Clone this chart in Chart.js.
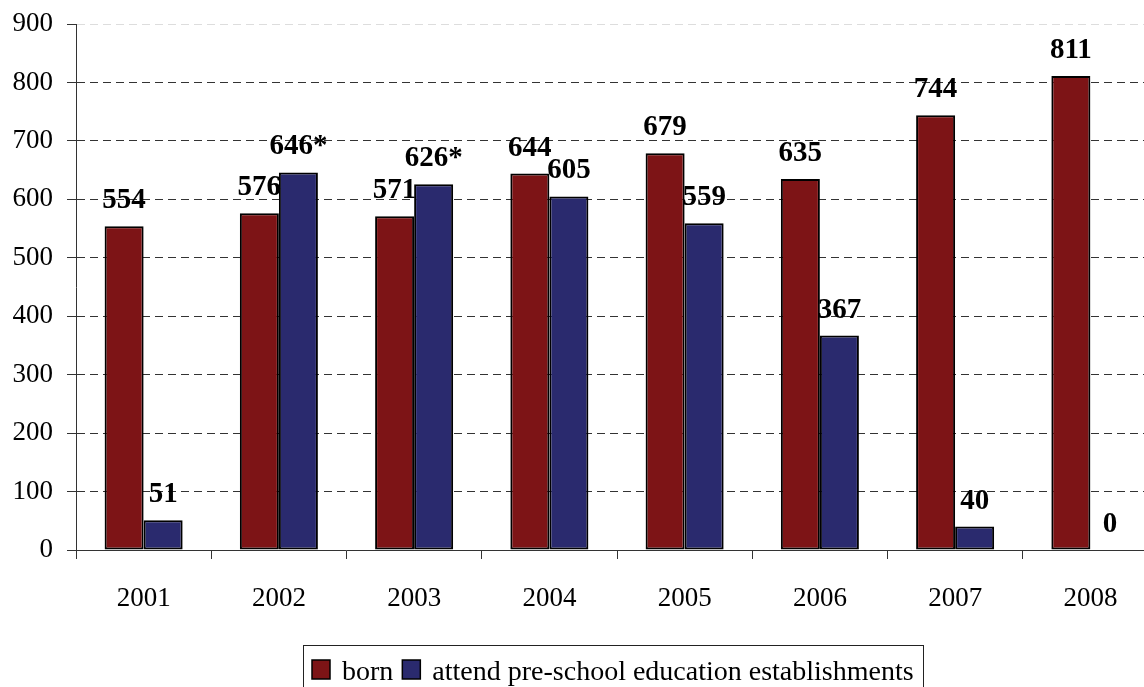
<!DOCTYPE html>
<html>
<head>
<meta charset="utf-8">
<script src="https://cdn.jsdelivr.net/npm/chart.js@4.4.0/dist/chart.umd.min.js"></script>
<style>
  html, body { margin: 0; padding: 0; background: #fff; overflow: hidden; }
  #wrap { width: 1144px; height: 687px; overflow: hidden; position: relative; }
  canvas { display: block; }
</style>
</head>
<body>
<div id="wrap"><canvas id="c" width="1160" height="687"></canvas></div>
<script>
const categories = ["2001", "2002", "2003", "2004", "2005", "2006", "2007", "2008"];
const bornValues = [554, 576, 571, 644, 679, 635, 744, 811];
const attendValues = [51, 646, 626, 605, 559, 367, 40, 0];
const bornNotes = ["", "", "", "", "", "", "", ""];
const attendNotes = ["", "*", "*", "", "", "", "", ""];
const seriesNames = ["born", "attend pre-school education establishments"];
const yTicks = [0, 100, 200, 300, 400, 500, 600, 700, 800, 900];

const FONT = "'Liberation Serif', 'Times New Roman', serif";
const RED = "#7D1416";
const BLUE = "#2A2A6E";

const dataLabels = {
  id: "dataLabels",
  afterDatasetsDraw(chart) {
    const ctx = chart.ctx;
    const notes = [bornNotes, attendNotes];
    ctx.save();
    ctx.font = "bold 29px " + FONT;
    ctx.fillStyle = "#000";
    ctx.textAlign = "center";
    ctx.textBaseline = "alphabetic";
    chart.data.datasets.forEach((ds, di) => {
      const meta = chart.getDatasetMeta(di);
      meta.data.forEach((el, i) => {
        ctx.fillText(String(ds.data[i]) + notes[di][i], el.x, el.y - 18);
      });
    });
    ctx.restore();
  }
};

const boxLegend = {
  id: "boxLegend",
  afterDraw(chart) {
    const ctx = chart.ctx;
    ctx.save();
    ctx.strokeStyle = "#222";
    ctx.lineWidth = 1;
    ctx.strokeRect(303.5, 645.5, 620, 60);
    ctx.font = "28px " + FONT;
    ctx.textBaseline = "alphabetic";
    ctx.textAlign = "left";
    let x = 312;
    chart.data.datasets.forEach((ds, i) => {
      ctx.fillStyle = ds.backgroundColor;
      ctx.fillRect(x, 660, 18, 19);
      ctx.strokeStyle = "#000";
      ctx.lineWidth = 1.5;
      ctx.strokeRect(x, 660, 18, 19);
      ctx.fillStyle = "#000";
      ctx.fillText(ds.label, x + 30, 680);
      x += 30 + ctx.measureText(ds.label).width + 9;
    });
    ctx.restore();
  }
};

new Chart(document.getElementById("c"), {
  type: "bar",
  data: {
    labels: categories,
    datasets: [
      { label: seriesNames[0], data: bornValues, backgroundColor: RED, borderColor: "#000", borderWidth: 2, borderSkipped: false },
      { label: seriesNames[1], data: attendValues, backgroundColor: BLUE, borderColor: "#000", borderWidth: 2, borderSkipped: false }
    ]
  },
  options: {
    responsive: false,
    animation: false,
    devicePixelRatio: 1,
    layout: { padding: { top: 24, right: 2, bottom: 0, left: 0 } },
    datasets: { bar: { categoryPercentage: 0.577, barPercentage: 1.0 } },
    plugins: { legend: { display: false }, tooltip: { enabled: false } },
    scales: {
      x: {
        grid: {
          offset: true, drawOnChartArea: false, drawTicks: true, tickLength: 9,
          tickColor: "#333", tickWidth: 1, tickBorderDash: []
        },
        border: { display: true, color: "#333", width: 1 },
        ticks: { color: "#000", font: { family: FONT, size: 27 }, padding: 24, maxRotation: 0 },
        afterFit(scale) { scale.height = 137; scale.paddingLeft = 0; scale.paddingRight = 0; }
      },
      y: {
        min: 0, max: 900,
        afterBuildTicks(scale) { scale.ticks = yTicks.map(v => ({ value: v })); },
        grid: {
          color: (c) => (c.tick && c.tick.value === 900 ? "#dddddd" : "#333333"),
          lineWidth: 1, drawTicks: true, tickLength: 9, tickColor: "#333",
          tickBorderDash: []
        },
        border: { display: true, color: "#333", width: 1, dash: [8, 5] },
        ticks: { color: "#000", font: { family: FONT, size: 27 }, padding: 14 },
        afterFit(scale) { scale.width = 76; scale.paddingTop = 0; scale.paddingBottom = 0; }
      }
    }
  },
  plugins: [dataLabels, boxLegend]
});
</script>
</body>
</html>
